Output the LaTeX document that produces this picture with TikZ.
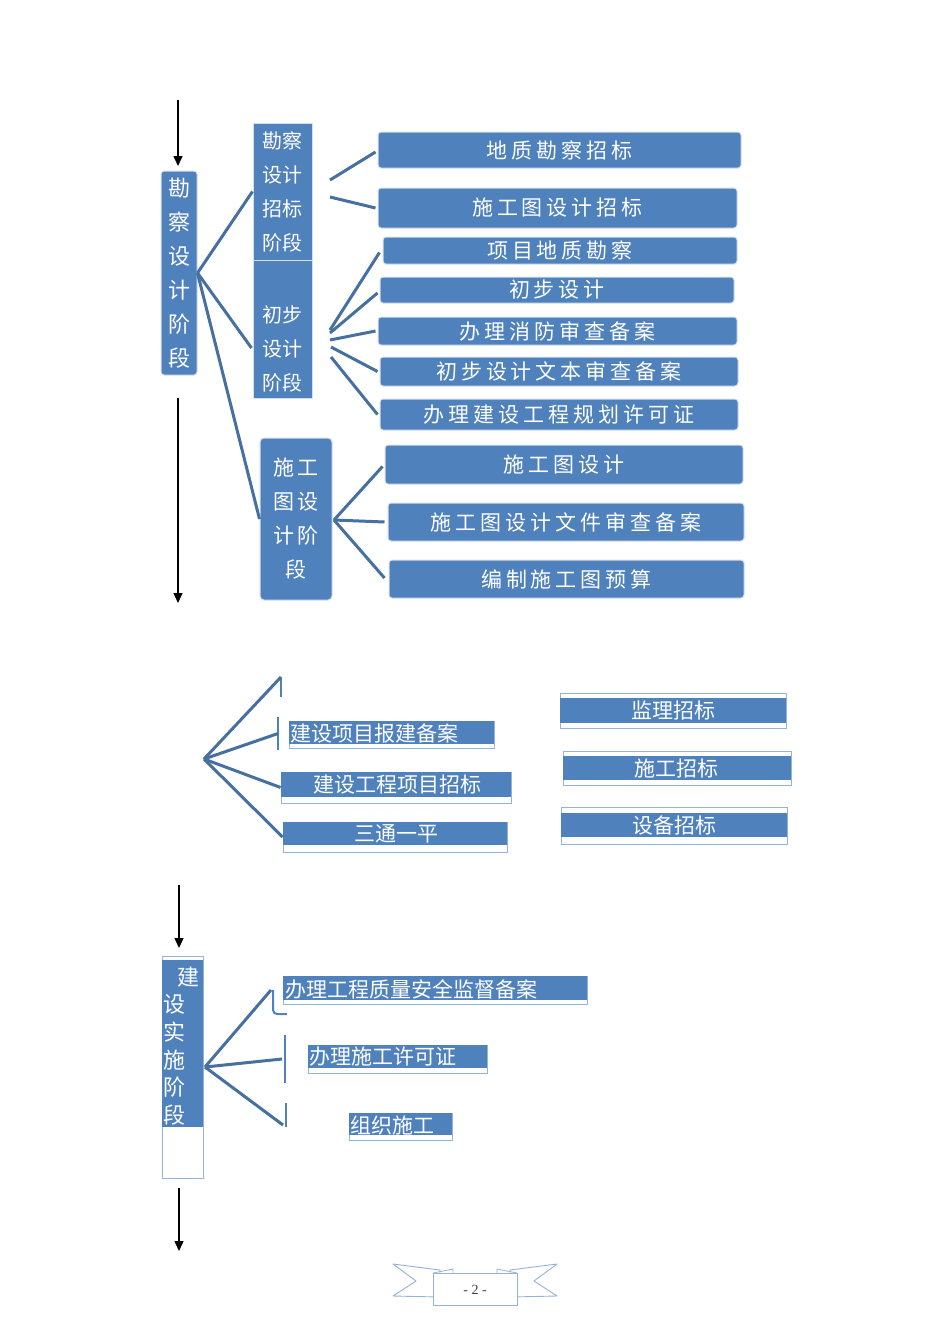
\documentclass[tikz,border=0pt]{standalone}
\usepackage{fontspec}
\setmainfont{Liberation Serif}
\newfontfamily\cjk{Noto Sans CJK SC}
\newfontfamily\cjkw[LetterSpace=19]{Noto Sans CJK SC}
\usetikzlibrary{arrows.meta,calc}
\definecolor{boxblue}{HTML}{4F81BD}
\definecolor{linkblue}{HTML}{46709F}
\definecolor{edgeblue}{HTML}{95B3D7}
\definecolor{glow}{HTML}{D5DFEC}
\begin{document}
\begin{tikzpicture}[x=1pt,y=-1pt,
  topbox/.style={draw=glow,line width=1pt,fill=boxblue,rounded corners=3pt,inner sep=0pt,
    text=white,font=\cjkw\fontsize{21}{25}\selectfont},
  vbox/.style={draw=glow,line width=1pt,fill=boxblue,inner sep=0pt,text=white,align=center},
  vtext/.style={inner sep=0pt,text=white,align=center},
  conn/.style={draw=linkblue,line width=3pt},
  stub/.style={draw=boxblue,line width=2.5pt},
  outl/.style={draw=edgeblue,line width=0.8pt,fill=white,inner sep=0pt},
  bandtxt/.style={inner sep=0pt,text=white,font=\cjk\fontsize{21}{21}\selectfont},
  downarrow/.style={draw=black,line width=1.3pt,-{Triangle[length=10pt,width=9pt]}},
  ribbon/.style={draw=edgeblue,line width=0.9pt,fill=white,line join=round}]
\useasboundingbox (0,0) rectangle (950,1344);
\fill[white] (0,0) rectangle (950,1344);

% ---------- top section ----------
\coordinate (a0s) at (178,100); \coordinate (a0e) at (178,166);
\draw[downarrow] (a0s) -- (a0e);
\coordinate (a1s) at (178,398); \coordinate (a1e) at (178,603);
\draw[downarrow] (a1s) -- (a1e);

\node[vbox,rounded corners=3pt,minimum width=36pt,minimum height=204pt,
  font=\cjk\fontsize{22}{34}\selectfont] (L1) at (179,273) {勘\\察\\设\\计\\阶\\段};
\node[vbox,minimum width=59pt,minimum height=137pt,
  font=\cjk\fontsize{20}{34}\selectfont] (B2a) at (282.5,191.5) {勘察\\设计\\招标\\阶段};
\node[vbox,minimum width=59pt,minimum height=138pt] (B2b) at (282.5,329) {};
\node[vtext,font=\cjk\fontsize{20}{34}\selectfont] (B2bt) at (282.5,349) {初步\\设计\\阶段};
\node[vbox,rounded corners=4pt,minimum width=72pt,minimum height=162pt,
  font=\cjkw\fontsize{21}{34}\selectfont] (B3) at (296,519) {施工\\图设\\计阶\\段};

\node[topbox,minimum width=363pt,minimum height=36pt] (R1) at (559.5,150) {地质勘察招标};
\node[topbox,minimum width=359pt,minimum height=40pt] (R2) at (557.5,208) {施工图设计招标};
\node[topbox,minimum width=354pt,minimum height=27pt] (R3) at (560,250.5) {项目地质勘察};
\node[topbox,minimum width=354pt,minimum height=26pt] (R4) at (557,290) {初步设计};
\node[topbox,minimum width=359pt,minimum height=28pt] (R5) at (557.5,331) {办理消防审查备案};
\node[topbox,minimum width=358pt,minimum height=29pt] (R6) at (559,371.5) {初步设计文本审查备案};
\node[topbox,minimum width=358pt,minimum height=31pt] (R7) at (559,414.5) {办理建设工程规划许可证};
\node[topbox,minimum width=358pt,minimum height=39pt] (R8) at (564,464.5) {施工图设计};
\node[topbox,minimum width=356pt,minimum height=38pt] (R9) at (566,522) {施工图设计文件审查备案};
\node[topbox,minimum width=355pt,minimum height=38pt] (R10) at (566.5,579) {编制施工图预算};

\draw[conn] (L1.east) -- (B2a.west);
\draw[conn] (L1.east) -- ($(B2b.west)+(-1,19)$);
\draw[conn] (L1.east) -- (B3.west);

\coordinate (p1) at (330,180); \coordinate (p2) at (330,197);
\draw[conn] (p1) -- ($(R1.west)+(-2,2)$);
\draw[conn] (p2) -- ($(R2.west)+(-2,0)$);

\coordinate (q3) at (330,330); \coordinate (q4) at (330,333);
\coordinate (q5) at (330,340); \coordinate (q6) at (331,347); \coordinate (q7) at (331,357);
\draw[conn] (q3) -- ($(R3.west)+(-3,2)$);
\draw[conn] (q4) -- ($(R4.west)+(-2,3)$);
\draw[conn] (q5) -- ($(R5.west)+(-2,0)$);
\draw[conn] (q6) -- ($(R6.west)+(-2,0)$);
\draw[conn] (q7) -- ($(R7.west)+(-2,0)$);

\coordinate (r0) at (334,520);
\draw[conn] (r0) -- ($(R8.west)+(-2,2)$);
\draw[conn] (r0) -- ($(R9.west)+(-3,0)$);
\draw[conn] (r0) -- ($(R10.west)+(-4,-1)$);

% ---------- middle section ----------
\coordinate (m0) at (204,759);
\coordinate (s1a) at (281,677); \coordinate (s1b) at (281,697);
\coordinate (s2a) at (278,717); \coordinate (s2b) at (278,750);
\draw[stub,line width=2pt] (s1a) -- (s1b);
\draw[stub] (s2a) -- (s2b);

\node[outl,minimum width=205pt,minimum height=27pt] (M1) at (391.5,734.5) {};
\fill[boxblue] (M1.north west) rectangle ($(M1.south east)+(0,-4)$);
\node[bandtxt,anchor=west] (M1t) at (290,733) {建设项目报建备案};

\node[outl,minimum width=230pt,minimum height=31pt] (M2) at (396,787.5) {};
\fill[boxblue] (M2.north west) rectangle ($(M2.south east)+(0,-6)$);
\node[bandtxt] (M2t) at (397,785) {建设工程项目招标};

\node[outl,minimum width=224pt,minimum height=30pt] (M3) at (395,837) {};
\fill[boxblue] (M3.north west) rectangle ($(M3.south east)+(0,-7)$);
\node[bandtxt] (M3t) at (396,834) {三通一平};

\draw[conn] (m0) -- (s1a);
\draw[conn] (m0) -- ($(s2a)!0.5!(s2b)$);
\draw[conn] (m0) -- (M2.west);
\draw[conn] (m0) -- (M3.west);

\node[outl,minimum width=226pt,minimum height=35pt] (N1) at (673,710.5) {};
\fill[boxblue] ($(N1.north west)+(0,5)$) rectangle ($(N1.south east)+(0,-5)$);
\node[bandtxt] (N1t) at (673,711) {监理招标};

\node[outl,minimum width=228pt,minimum height=34pt] (N2) at (677,768) {};
\fill[boxblue] ($(N2.north west)+(0,5)$) rectangle ($(N2.south east)+(0,-5)$);
\node[bandtxt] (N2t) at (676,768) {施工招标};

\node[outl,minimum width=226pt,minimum height=37pt] (N3) at (674,825.5) {};
\fill[boxblue] ($(N3.north west)+(0,6)$) rectangle ($(N3.south east)+(0,-7)$);
\node[bandtxt] (N3t) at (674,826) {设备招标};

% ---------- bottom section ----------
\coordinate (b0s) at (179,885); \coordinate (b0e) at (179,948);
\draw[downarrow] (b0s) -- (b0e);
\coordinate (b1s) at (179,1188); \coordinate (b1e) at (179,1251);
\draw[downarrow] (b1s) -- (b1e);

\node[outl,minimum width=41pt,minimum height=222pt] (K1) at (182.5,1067) {};
\fill[boxblue] ($(K1.north west)+(0,4)$) rectangle ($(K1.south east)+(0,-51)$);
\node[inner sep=0pt,text=white,align=left,anchor=west,
  font=\cjk\fontsize{22}{27.6}\selectfont] (K1t) at (163,1046)
  {\hspace*{14pt}建\\设\\实\\施\\阶\\段};

\coordinate (k0) at (205,1067);
\coordinate (t1a) at (273,990); \coordinate (t1b) at (273,1010); \coordinate (t1c) at (287,1014);
\draw[stub,line width=2pt] (t1a) -- (t1b) to[out=-90,in=180] (t1c);
\coordinate (t2a) at (285,1035); \coordinate (t2b) at (285,1083);
\draw[stub,line width=2pt] (t2a) -- (t2b);
\coordinate (t3a) at (286,1103); \coordinate (t3b) at (286,1127);
\draw[stub,line width=2pt] (t3a) -- (t3b);

\draw[conn] (k0) -- ($(t1a)+(-2,0)$);
\draw[conn] (k0) -- ($(t2a)!0.5!(t2b)+(-3,0)$);
\draw[conn] (k0) -- ($(t3b)+(-3,-2)$);

\node[outl,minimum width=304pt,minimum height=28pt] (K2) at (435,990) {};
\fill[boxblue] (K2.north west) rectangle ($(K2.south east)+(0,-4)$);
\node[bandtxt,anchor=west] (K2t) at (285,989) {办理工程质量安全监督备案};

\node[outl,minimum width=179pt,minimum height=28pt] (K3) at (397.5,1059) {};
\fill[boxblue] (K3.north west) rectangle ($(K3.south east)+(0,-5)$);
\node[bandtxt,anchor=west] (K3t) at (309,1057) {办理施工许可证};

\node[outl,minimum width=103pt,minimum height=27pt] (K4) at (400.5,1126.5) {};
\fill[boxblue] (K4.north west) rectangle ($(K4.south east)+(0,-5)$);
\node[bandtxt,anchor=west] (K4t) at (350,1125) {组织施工};

% ---------- footer ribbon ----------
\draw[ribbon] (393,1264) -- (440,1270) -- (440,1297) -- (393,1296) -- (416,1281) -- cycle;
\draw[ribbon] (557,1264) -- (510,1270) -- (510,1297) -- (557,1296) -- (534,1281) -- cycle;
\draw[ribbon] (433,1273) -- (517,1273) -- (517,1305) -- (433,1305) -- cycle;
\draw[edgeblue,line width=0.8pt] (433,1273) -- (453,1269) -- (453,1273);
\draw[edgeblue,line width=0.8pt] (517,1273) -- (497,1269) -- (497,1273);
\node[inner sep=0pt,font=\fontsize{14}{14}\selectfont,text=black!75] (pg) at (475,1290) {- 2 -};
\end{tikzpicture}
\end{document}
